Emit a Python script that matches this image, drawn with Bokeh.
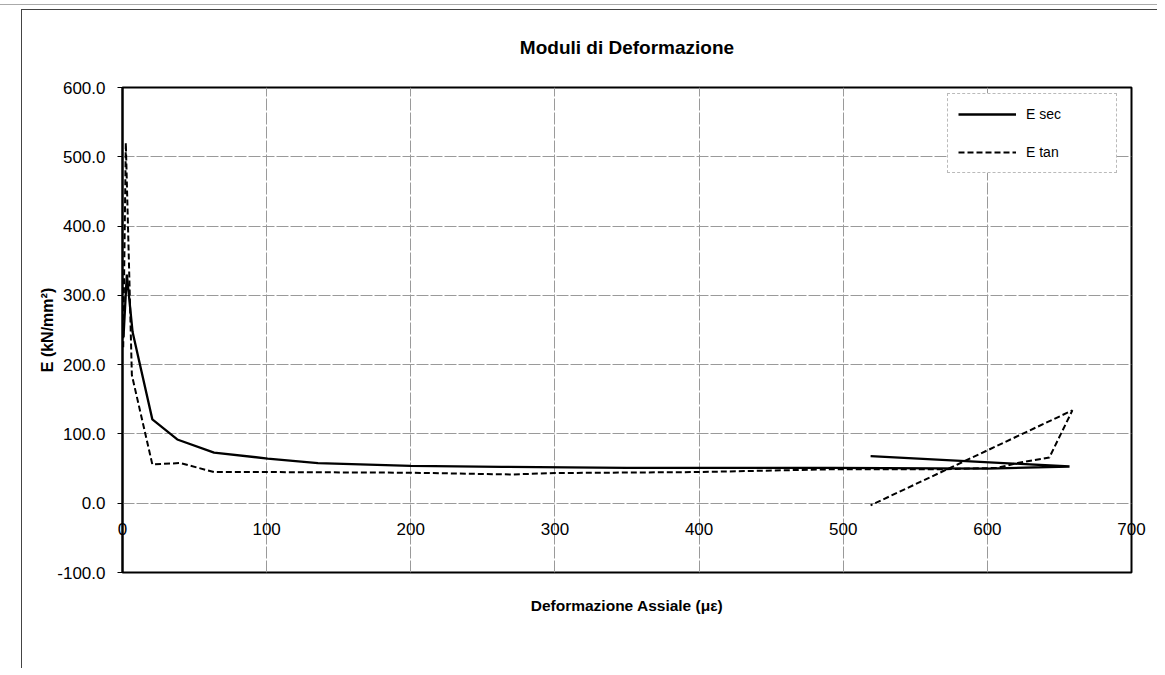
from bokeh.plotting import figure
from bokeh.models import Legend, LegendItem, Title, FixedTicker, PrintfTickFormatter, Range1d
from bokeh.embed import file_html
from bokeh.resources import INLINE

# ---- data ----
esec_x = [0.7, 3.0, 7.0, 20.7, 38.0, 63.5, 100.7, 135.6, 200.0, 263.0, 350.0, 493.0, 600.0, 657.0, 519.0]
esec_y = [240.0, 330.0, 247.0, 121.0, 92.0, 73.0, 64.5, 58.0, 54.0, 52.4, 51.0, 51.0, 50.0, 53.0, 68.0]

etan_x = [0.5, 2.3, 6.5, 20.7, 40.0, 63.5, 100.0, 200.0, 270.0, 300.0, 400.0, 493.0, 570.0, 607.0, 621.0, 643.0, 659.0, 519.0]
etan_y = [225.0, 520.0, 185.0, 56.0, 58.0, 45.0, 45.0, 44.0, 41.5, 43.5, 45.0, 49.0, 49.0, 51.0, 58.0, 66.0, 134.0, -3.0]

x_ticks = [0, 100, 200, 300, 400, 500, 600, 700]
y_ticks = [-100, 0, 100, 200, 300, 400, 500, 600]

title_text = "Moduli di Deformazione"
x_label = "Deformazione Assiale (\u03bc\u03b5)"
y_label = "E (kN/mm\u00b2)"
series_names = ["E sec", "E tan"]

FONT = "Liberation Sans"

p = figure(width=1157, height=668, x_range=Range1d(0, 700), y_range=Range1d(-100, 600),
           output_backend="svg", toolbar_location=None,
           min_border_left=122, min_border_right=26, min_border_top=87, min_border_bottom=96,
           background_fill_color="white", border_fill_color="white", border_fill_alpha=0.0)
p.margin = (0, 0, 0, 0)
# outer chart-area box lines (page decoration behind the transparent border area)
p.styles = {
    "background-color": "white",
    "background-image": "linear-gradient(#444444, #444444), linear-gradient(#444444, #444444), linear-gradient(#aaaaaa, #aaaaaa)",
    "background-size": "calc(100% - 21px) 1px, 1px calc(100% - 9px), 100% 1px",
    "background-position": "21px 9px, 21px 9px, 0px 4px",
    "background-repeat": "no-repeat",
}

p.outline_line_color = "black"
p.outline_line_width = 2

# title
p.title.text = title_text
p.title.align = "center"
p.title.text_font = FONT
p.title.text_font_size = "19px"
p.title.text_font_style = "bold"
p.title.text_color = "black"
p.title.standoff = 60

# x axis: labels drawn up inside the frame, just under the y = 0 line
p.xaxis.ticker = FixedTicker(ticks=x_ticks)
p.xaxis.axis_line_color = None
p.xaxis.major_tick_out = 0
p.xaxis.major_tick_in = 0
p.xaxis.minor_tick_line_color = None
p.xaxis.major_label_standoff = -50
p.xaxis.major_label_text_font = FONT
p.xaxis.major_label_text_font_size = "17px"
p.xaxis.major_label_text_color = "black"

# y axis
p.yaxis.ticker = FixedTicker(ticks=y_ticks)
p.yaxis.formatter = PrintfTickFormatter(format="%.1f")
p.yaxis.axis_line_color = "black"
p.yaxis.axis_line_width = 2
p.yaxis.major_tick_out = 5
p.yaxis.major_tick_in = 0
p.yaxis.major_tick_line_color = "black"
p.yaxis.minor_tick_line_color = None
p.yaxis.major_label_standoff = 12
p.yaxis.major_label_text_font = FONT
p.yaxis.major_label_text_font_size = "17px"
p.yaxis.major_label_text_color = "black"
p.yaxis.axis_label = y_label
p.yaxis.axis_label_text_font = FONT
p.yaxis.axis_label_text_font_size = "16px"
p.yaxis.axis_label_text_font_style = "bold"
p.yaxis.axis_label_text_color = "black"
p.yaxis.axis_label_standoff = -2

# grid
for g in (p.xgrid, p.ygrid):
    g.grid_line_color = "#9a9a9a"
    g.grid_line_width = 1
    g.grid_line_dash = "12 2"
p.xgrid.ticker = FixedTicker(ticks=x_ticks)
p.ygrid.ticker = FixedTicker(ticks=y_ticks)

# x label below
p.add_layout(Title(text=x_label, align="center", text_font=FONT, text_font_size="15.5px",
                   text_font_style="bold", text_color="black", standoff=44), "below")

r1 = p.line(esec_x, esec_y, line_color="black", line_width=2.3)
r2 = p.line(etan_x, etan_y, line_color="black", line_width=2, line_dash="6 3")

legend = Legend(items=[LegendItem(label=series_names[0], renderers=[r1]),
                       LegendItem(label=series_names[1], renderers=[r2])],
                location=(825, 399), orientation="vertical",
                glyph_width=58, glyph_height=20, label_height=20, spacing=18,
                padding=10, margin=0, label_standoff=10, label_width=80,
                label_text_font=FONT, label_text_font_size="14px", label_text_color="black",
                border_line_color="#777777", border_line_dash="2 2", border_line_width=1,
                background_fill_color="white", background_fill_alpha=1.0)
p.add_layout(legend)

open("out.html", "w").write(file_html(p, INLINE))
